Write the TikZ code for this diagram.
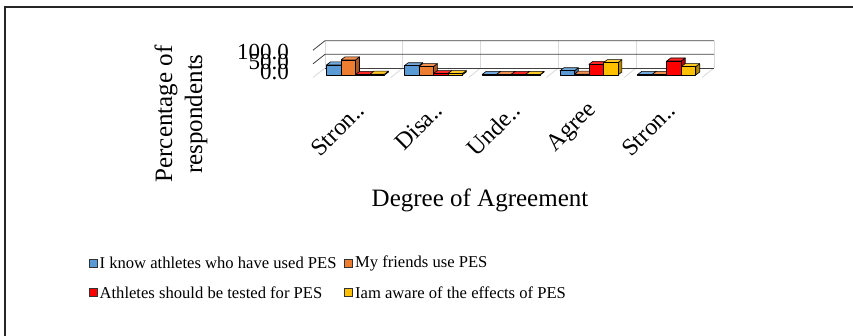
\documentclass[tikz,border=0pt]{standalone}
\usepackage{fontspec}
\setmainfont{Liberation Serif}
\usetikzlibrary{positioning}
\definecolor{serblue}{HTML}{5B9BD5}
\definecolor{serorange}{HTML}{ED7D31}
\definecolor{serred}{HTML}{FF0000}
\definecolor{seryellow}{HTML}{FFC000}

% one 3d bar: left x, height, colour
\newcommand{\pesbar}[3]{%
  \pgfmathsetmacro\bx{#1}\pgfmathsetmacro\bh{#2}%
  \filldraw[barline, fill=#3!70!black] (\bx+14.5,75) -- ++(4,-3) -- ++(0,-\bh) -- ++(-4,3) -- cycle;
  \filldraw[barline, fill=#3!85!white] (\bx,75-\bh) -- ++(4,-3) -- ++(14.5,0) -- ++(-4,3) -- cycle;
  \filldraw[barline, fill=#3] (\bx,75) rectangle ++(14.5,-\bh);
}

\begin{document}
\begin{tikzpicture}[x=1pt, y=-1pt,
    barline/.style={draw=black, line width=0.6pt, line join=round},
    grid/.style={black!75, line width=0.8pt},
    faint/.style={black!15, line width=0.8pt},
    axtitle/.style={font=\fontsize{25}{30}\selectfont, align=center},
    tick/.style={font=\fontsize{23}{23}\selectfont, anchor=east, inner sep=0pt},
    catlabel/.style={font=\fontsize{24}{24}\selectfont, rotate=45, anchor=east, inner sep=1pt},
    legtext/.style={font=\fontsize{16.6}{17}\selectfont, inner sep=1pt},
    legkey/.style={draw=black!80, line width=0.8pt, minimum size=8pt, inner sep=0pt}]

    \useasboundingbox (0,0) rectangle (853,336);
    \begin{scope}
        \clip (0,0) rectangle (853,336);
        \draw[line width=1.6pt, black!85] (5,7) rectangle (880,360);
    \end{scope}

    % walls and floor
    \foreach \k in {0,...,5} {
        \draw[faint] ({325+77.8*\k},40.7) -- ({325+77.8*\k},68);
        \draw[faint] ({313+77.8*\k},77.5) -- ({325+77.8*\k},68);
    }
    \foreach \v in {50,100}
        \draw[grid] (313,{77.5-0.273*\v}) -- (325,{68-0.273*\v}) -- (714,{68-0.273*\v});
    \draw[grid] (325,68) -- (714,68);

    % bars
    \foreach \vals [count=\k from 0] in {%
        {36/serblue,54/serorange,2/serred,3/seryellow},
        {33/serblue,30/serorange,5/serred,5/seryellow},
        {2/serblue,2/serorange,2/serred,2/seryellow},
        {15/serblue,3/serorange,38/serred,44/seryellow},
        {2/serblue,2/serorange,50/serred,30/seryellow}} {
        \foreach \v/\c [count=\i from 0] in \vals {
            \pesbar{316+77.8*\k+10.5+14.5*\i}{0.28*\v}{\c}
        }
    }

    % axis labels
    \node[tick] (t100) at (289,52) {100.0};
    \node[tick] (t50) at (289,62) {50.0};
    \node[tick] (t0) at (289,72) {0.0};
    \node[axtitle, rotate=90] (ytitle) at (181,114) {Percentage of\\respondents};
    \node[axtitle] (xtitle) at (480,200) {Degree of Agreement};

    \node[catlabel] (c1) at ({352+9},106) {Stron..};
    \node[catlabel] (c2) at ({430+9},106) {Disa..};
    \node[catlabel] (c3) at ({508+9},106) {Unde..};
    \node[catlabel] (c4) at ({585+9},106) {Agree};
    \node[catlabel] (c5) at ({663+9},106) {Stron..};

    % legend
    \node[legkey, fill=serblue] (k1) at (93,263) {};
    \node[legtext, right=1pt of k1] (l1) {I know athletes who have used PES};
    \node[legkey, fill=serorange] (k2) at (348.5,263) {};
    \node[legtext, right=1pt of k2] (l2) {My friends use PES};
    \node[legkey, fill=serred] (k3) at (93,292.5) {};
    \node[legtext, right=1pt of k3] (l3) {Athletes should be tested for PES};
    \node[legkey, fill=seryellow] (k4) at (348.5,292.5) {};
    \node[legtext, right=1pt of k4] (l4) {Iam aware of the effects of PES};
\end{tikzpicture}
\end{document}
